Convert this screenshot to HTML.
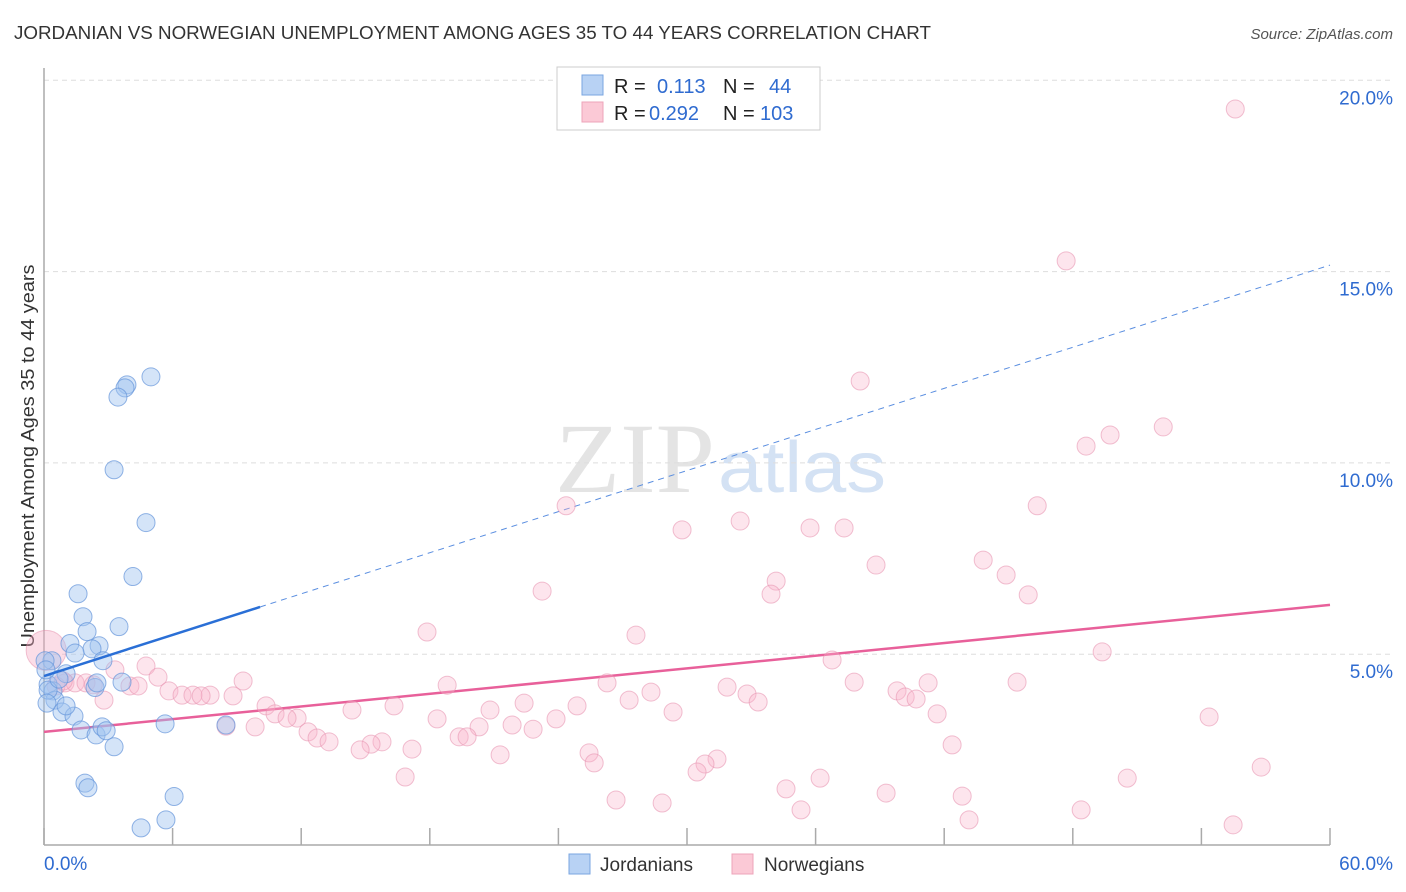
<!DOCTYPE html>
<html><head><meta charset="utf-8"><style>
body{margin:0;background:#fff;font-family:"Liberation Sans",sans-serif;}
svg{display:block}
</style></head><body>
<svg id="chart" width="1406" height="892" viewBox="0 0 1406 892">
<text x="14" y="39" font-size="18" fill="#333" textLength="917" lengthAdjust="spacingAndGlyphs">JORDANIAN VS NORWEGIAN UNEMPLOYMENT AMONG AGES 35 TO 44 YEARS CORRELATION CHART</text>
<text x="1393" y="39" font-size="15" fill="#555" font-style="italic" text-anchor="end">Source: ZipAtlas.com</text>
<text x="0" y="0" transform="translate(34,456) rotate(-90)" font-size="18" fill="#333" text-anchor="middle" textLength="383" lengthAdjust="spacingAndGlyphs">Unemployment Among Ages 35 to 44 years</text>
<g><text x="555" y="492" font-family="Liberation Serif,serif" font-size="100" fill="#e4e4e4" textLength="160" lengthAdjust="spacingAndGlyphs">ZIP</text><text x="718" y="492" font-size="72" fill="#d4e2f4" textLength="168" lengthAdjust="spacingAndGlyphs">atlas</text></g>
<g id="grid"></g><g id="axes"></g><g id="trends"></g><g id="pts"></g>
<g>
<rect x="557" y="67" width="263" height="63" fill="#fff" stroke="#ccc"/>
<rect x="582" y="75" width="21" height="20" fill="#b8d2f4" stroke="#7aa6e0"/>
<rect x="582" y="102" width="21" height="20" fill="#fbc9d6" stroke="#eea4ba"/>
<text x="614" y="93" font-size="20" fill="#222">R = </text><text x="657" y="93" font-size="20" fill="#2f6bd0">0.113</text>
<text x="723" y="93" font-size="20" fill="#222">N = </text><text x="769" y="93" font-size="20" fill="#2f6bd0">44</text>
<text x="614" y="120" font-size="20" fill="#222">R = </text><text x="649" y="120" font-size="20" fill="#2f6bd0">0.292</text>
<text x="723" y="120" font-size="20" fill="#222">N = </text><text x="760" y="120" font-size="20" fill="#2f6bd0">103</text>
</g>
<g>
<rect x="569" y="854" width="21" height="20" fill="#b8d2f4" stroke="#7aa6e0"/>
<text x="600" y="871" font-size="19" fill="#333">Jordanians</text>
<rect x="732" y="854" width="21" height="20" fill="#fbc9d6" stroke="#eea4ba"/>
<text x="764" y="871" font-size="19" fill="#333">Norwegians</text>
</g>
</svg>
<script>
const yTicks=[5,10,15,20];
const xTickLabels=["0.0%","60.0%"];
const blueX=[4.99,3.87,3.78,3.45,3.27,4.76,4.15,1.59,1.82,3.50,2.01,1.21,2.57,2.24,0.37,1.45,2.75,1.03,2.38,0.19,3.64,2.47,0.42,0.51,0.84,1.40,1.03,1.73,2.43,2.71,5.65,3.27,1.91,2.05,6.07,4.53,5.69,0.05,0.19,0.70,0.14,8.49,0.09,2.9];
const blueY=[12.25,12.04,11.96,11.72,9.82,8.44,7.03,6.58,5.98,5.72,5.59,5.28,5.22,5.14,4.83,5.03,4.83,4.49,4.13,4.21,4.27,4.25,4.04,3.80,3.49,3.38,3.65,3.02,2.89,3.10,3.18,2.58,1.63,1.51,1.28,0.46,0.67,4.83,4.06,4.35,3.72,3.15,4.59,3.0];
const pinkX=[55.58,47.69,38.08,52.22,49.74,48.62,24.36,46.34,32.48,29.77,35.74,37.33,43.82,38.82,44.89,34.16,23.24,33.92,45.92,17.87,27.62,49.37,36.77,4.76,3.31,9.29,5.32,26.27,18.81,37.80,31.87,41.25,45.40,0.98,4.01,4.39,5.83,6.44,7.75,6.95,7.33,8.82,28.32,39.80,32.80,40.18,40.69,2.80,33.32,10.36,22.40,16.33,24.87,27.30,14.37,20.81,10.78,11.81,41.67,29.35,11.34,23.89,18.34,54.36,8.49,21.84,9.85,20.30,12.32,22.82,12.74,19.37,19.74,13.30,15.77,15.26,42.37,17.17,14.75,25.43,21.28,25.67,31.40,30.84,30.47,16.85,56.79,36.21,50.54,34.62,39.29,26.69,28.84,42.84,35.32,48.39,43.16,55.48,1.45,1.96,0.56,0.9,2.3];
const pinkY=[19.25,15.28,12.14,10.94,10.73,10.44,8.88,8.88,8.48,8.25,8.30,8.30,7.46,7.33,7.07,6.91,6.65,6.57,6.55,5.58,5.50,5.06,4.85,4.69,4.59,4.30,4.40,4.25,4.19,4.27,4.14,4.25,4.27,4.25,4.17,4.17,4.04,3.93,3.93,3.93,3.91,3.91,4.01,4.04,3.96,3.88,3.83,3.80,3.75,3.65,3.72,3.65,3.65,3.80,3.54,3.54,3.44,3.33,3.44,3.49,3.33,3.31,3.31,3.36,3.12,3.15,3.10,3.10,2.97,3.04,2.81,2.84,2.84,2.71,2.71,2.65,2.63,2.52,2.50,2.42,2.37,2.16,2.26,2.13,1.92,1.79,2.05,1.76,1.76,1.48,1.37,1.19,1.11,1.29,0.93,0.93,0.67,0.54,4.25,4.25,4.17,4.3,4.2];
const blueTrend=[4.43,0.179];
const pinkTrend=[2.97,0.0553];
const blueSolidEnd=10.08;

const NS="http://www.w3.org/2000/svg";
const sx=v=>44+v*(1286/60), sy=v=>845.5-v*38.26;
function mk(tag,attrs,parent){const e=document.createElementNS(NS,tag);for(const k in attrs)e.setAttribute(k,attrs[k]);document.getElementById(parent).appendChild(e);return e;}
yTicks.forEach(t=>{
 const l=mk('line',{x1:44,x2:1394,y1:sy(t),y2:sy(t),stroke:'#ddd','stroke-dasharray':'5,4'},'grid');
 
 
 const tx=mk('text',{x:1393,y:sy(t)+24,'font-size':19,fill:'#2f6bd0','text-anchor':'end'},'grid');
 tx.textContent=t.toFixed(1)+'%';
 
 
});
const ax=mk('line',{x1:44,x2:44,y1:68,y2:845,stroke:'#aaa','stroke-width':1.5},'axes');


const bx=mk('line',{x1:44,x2:1330,y1:845,y2:845,stroke:'#aaa','stroke-width':1.5},'axes');


for(let i=0;i<=10;i++){const v=i*6;const t=mk('line',{x1:sx(v),x2:sx(v),y1:828,y2:845,stroke:'#aaa','stroke-width':1.5},'axes');
 
 }
[[0,'start',44],[60,'end',1393]].forEach((a,i)=>{const t=mk('text',{x:a[2],y:870,'font-size':19,fill:'#2f6bd0','text-anchor':a[1]},'axes');t.textContent=xTickLabels[i];
 
 });
const bt=v=>blueTrend[0]+blueTrend[1]*v, pt=v=>pinkTrend[0]+pinkTrend[1]*v;
let l1=mk('line',{x1:sx(blueSolidEnd),y1:sy(bt(blueSolidEnd)),x2:sx(60),y2:sy(bt(60)),stroke:'#5a8ee0','stroke-width':1,'stroke-dasharray':'6,5'},'trends');


let l2=mk('line',{x1:sx(0),y1:sy(pinkTrend[0]),x2:sx(60),y2:sy(pt(60)),stroke:'#e8609a','stroke-width':2.5},'trends');


let big=mk('circle',{cx:sx(0.1),cy:sy(5.1),r:20,fill:'rgba(245,170,195,0.4)',stroke:'rgba(230,140,170,0.5)'},'pts');


pinkX.forEach((x,i)=>{const c=mk('circle',{cx:sx(x),cy:sy(pinkY[i]),r:9,fill:'rgba(248,180,202,0.35)',stroke:'rgba(232,150,178,0.6)','stroke-width':1},'pts');
 
 });
blueX.forEach((x,i)=>{const c=mk('circle',{cx:sx(x),cy:sy(blueY[i]),r:9,fill:'rgba(160,196,240,0.45)',stroke:'rgba(100,148,218,0.7)','stroke-width':1},'pts');
 
 });
let l3=mk('line',{x1:sx(0),y1:sy(blueTrend[0]),x2:sx(blueSolidEnd),y2:sy(bt(blueSolidEnd)),stroke:'#2a6fd6','stroke-width':2.5},'pts');


</script>
</body></html>
